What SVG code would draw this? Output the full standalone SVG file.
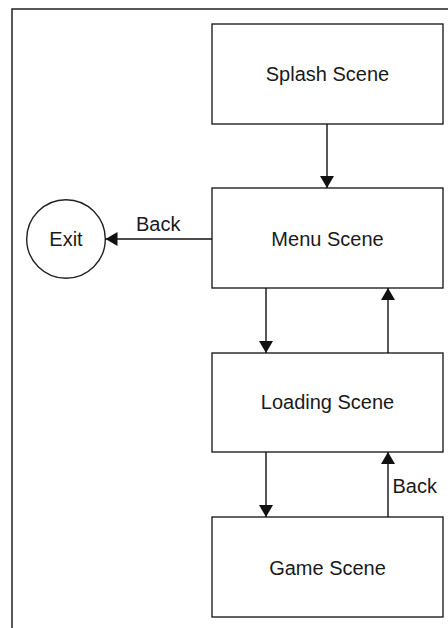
<svg xmlns="http://www.w3.org/2000/svg" width="448" height="628" viewBox="0 0 448 628">
  <defs>
    <marker id="arr" viewBox="0 0 12 14" refX="12" refY="7" markerWidth="12" markerHeight="14" markerUnits="userSpaceOnUse" orient="auto">
      <path d="M0,0 L12,7 L0,14 z" fill="#111"/>
    </marker>
  </defs>
  <style>
    .box { fill: #fff; stroke: #222; stroke-width: 1.4; }
    .lbl { font-family: "Liberation Sans", Arial, sans-serif; font-size: 20px; fill: #1a1a1a; text-anchor: middle; dominant-baseline: central; }
    .edge { fill: none; stroke: #111; stroke-width: 1.4; marker-end: url(#arr); }
    .elbl { font-family: "Liberation Sans", Arial, sans-serif; font-size: 20px; fill: #1a1a1a; }
  </style>
  <rect width="448" height="628" fill="#fff"/>
  <path d="M12,628 L12,9 L448,9" fill="none" stroke="#222" stroke-width="1.5"/>

  <g id="splash">
    <rect class="box" x="212" y="24" width="231" height="100"/>
    <text class="lbl" x="327.5" y="74">Splash Scene</text>
  </g>
  <g id="menu">
    <rect class="box" x="212" y="188" width="231" height="100"/>
    <text class="lbl" x="327.5" y="239">Menu Scene</text>
  </g>
  <g id="loading">
    <rect class="box" x="212" y="353" width="231" height="99"/>
    <text class="lbl" x="327.5" y="402">Loading Scene</text>
  </g>
  <g id="game">
    <rect class="box" x="212" y="517" width="231" height="100"/>
    <text class="lbl" x="327.5" y="568">Game Scene</text>
  </g>
  <g id="exit">
    <circle class="box" cx="66" cy="239" r="39.3"/>
    <text class="lbl" x="66" y="239">Exit</text>
  </g>

  <g id="connectors">
    <line class="edge" x1="327" y1="124" x2="327" y2="188"/>
    <line class="edge" x1="212" y1="239" x2="105.5" y2="239"/>
    <text class="elbl" x="136" y="231">Back</text>
    <line class="edge" x1="266" y1="288" x2="266" y2="353"/>
    <line class="edge" x1="388" y1="353" x2="388" y2="288"/>
    <line class="edge" x1="266" y1="452" x2="266" y2="517"/>
    <line class="edge" x1="388" y1="517" x2="388" y2="452"/>
    <text class="elbl" x="392.5" y="493">Back</text>
  </g>
</svg>
